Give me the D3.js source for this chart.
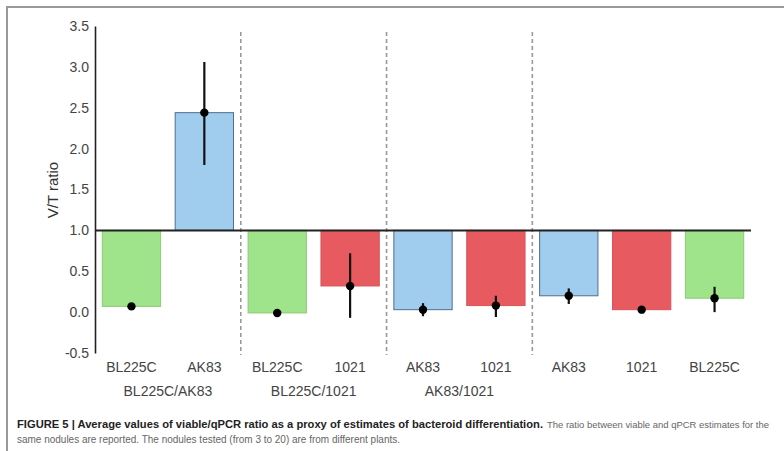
<!DOCTYPE html>
<html><head><meta charset="utf-8">
<script src="https://cdn.jsdelivr.net/npm/d3@7"></script>
<style>
html,body{margin:0;padding:0;background:#fff;}
svg{display:block;}
</style></head>
<body>
<svg id="chart" width="784" height="451"></svg>
<script>
const barLabels = ["BL225C","AK83","BL225C","1021","AK83","1021","AK83","1021","BL225C"];
const strains   = ["BL225C","AK83","BL225C","1021","AK83","1021","AK83","1021","BL225C"];
const values    = [0.07, 2.44, -0.01, 0.32, 0.03, 0.08, 0.20, 0.03, 0.17];
const errLow    = [0.07, 1.80, -0.01, -0.07, -0.05, -0.06, 0.10, 0.03, 0.00];
const errHigh   = [0.07, 3.06, -0.01, 0.72, 0.11, 0.20, 0.29, 0.03, 0.31];
const groupNames = ["BL225C/AK83","BL225C/1021","AK83/1021"];
const groupMembers = [[0,1],[2,3],[4,5]];
const separators = [2,4,6];
const yTicks = [-0.5,0.0,0.5,1.0,1.5,2.0,2.5,3.0,3.5];
const yTickLabels = ["-0.5","0.0","0.5","1.0","1.5","2.0","2.5","3.0","3.5"];
const baselineValue = 1.0;
const fillColors = {"BL225C":"#9fe48b","AK83":"#a0ccee","1021":"#e65a60"};
const strokeColors = {"BL225C":"#8acb78","AK83":"#4f6f8e","1021":"#d8535a"};
const captionBold = "FIGURE 5 | Average values of viable/qPCR ratio as a proxy of estimates of bacteroid differentiation.";
const captionRest1 = "The ratio between viable and qPCR estimates for the";
const captionLine2 = "same nodules are reported. The nodules tested (from 3 to 20) are from different plants.";

const svg = d3.select("#chart");
const left = 95, right = 751;
const x = d3.scaleBand().domain(d3.range(values.length)).range([left, right]).paddingInner(0.2).paddingOuter(0.1);
const y = d3.scaleLinear().domain([-0.5, 3.5]).range([353, 26]);

// frame
svg.append("path").attr("d","M7,451 V7 H784").attr("fill","none").attr("stroke","#9a9a9a").attr("stroke-width",2);

// dashed separators
separators.forEach(s => {
  const xs = left + (x.paddingOuter() * x.step()) + s * x.step() - x.step()*x.paddingInner()/2;
  svg.append("line").attr("x1",xs).attr("x2",xs).attr("y1",32).attr("y2",355)
    .attr("stroke","#999").attr("stroke-width",1.6).attr("stroke-dasharray","4,3");
});

// bars
svg.selectAll("rect.bar").data(values).enter().append("rect")
  .attr("class","bar")
  .attr("x",(d,i)=>x(i)).attr("width",x.bandwidth())
  .attr("y",d=>Math.min(y(d),y(baselineValue)))
  .attr("height",d=>Math.abs(y(d)-y(baselineValue)))
  .attr("fill",(d,i)=>fillColors[strains[i]])
  .attr("stroke",(d,i)=>strokeColors[strains[i]]).attr("stroke-width",1);

// baseline at 1.0
svg.append("line").attr("x1",left).attr("x2",right).attr("y1",y(baselineValue)).attr("y2",y(baselineValue))
  .attr("stroke","#222").attr("stroke-width",2);

// error bars
svg.selectAll("line.err").data(values).enter().append("line")
  .attr("class","err")
  .attr("x1",(d,i)=>x(i)+x.bandwidth()/2).attr("x2",(d,i)=>x(i)+x.bandwidth()/2)
  .attr("y1",(d,i)=>y(errLow[i])).attr("y2",(d,i)=>y(errHigh[i]))
  .attr("stroke","#111").attr("stroke-width",2.2);
svg.selectAll("circle.pt").data(values).enter().append("circle")
  .attr("class","pt")
  .attr("cx",(d,i)=>x(i)+x.bandwidth()/2).attr("cy",d=>y(d)).attr("r",4.2).attr("fill","#000");

// y axis
const yAxis = d3.axisLeft(y).tickValues(yTicks).tickFormat((d,i)=>yTickLabels[i]).tickSize(0).tickPadding(6);
const ga = svg.append("g").attr("transform",`translate(${left},0)`).call(yAxis);
ga.select(".domain").attr("stroke","#222").attr("stroke-width",1.6);
ga.selectAll("text").attr("font-family","Liberation Sans, Arial, sans-serif").attr("font-size",14).attr("fill","#444");

svg.append("text").attr("transform","translate(58,190) rotate(-90)").attr("text-anchor","middle")
  .attr("font-family","Liberation Sans, Arial, sans-serif").attr("font-size",15).attr("fill","#333").text("V/T ratio");

// x labels
svg.selectAll("text.xl").data(barLabels).enter().append("text")
  .attr("class","xl").attr("x",(d,i)=>x(i)+x.bandwidth()/2).attr("y",372)
  .attr("text-anchor","middle").attr("font-family","Liberation Sans, Arial, sans-serif")
  .attr("font-size",14).attr("fill","#444").text(d=>d);
svg.selectAll("text.gl").data(groupNames).enter().append("text")
  .attr("class","gl")
  .attr("x",(d,i)=>d3.mean(groupMembers[i],j=>x(j)+x.bandwidth()/2)).attr("y",396)
  .attr("text-anchor","middle").attr("font-family","Liberation Sans, Arial, sans-serif")
  .attr("font-size",14).attr("fill","#444").text(d=>d);

// caption
const capFont = "'Liberation Sans Narrow', 'Liberation Sans', Arial, sans-serif";
svg.append("text").attr("x",17).attr("y",428).attr("font-family",capFont).attr("font-size",10.5)
  .attr("font-weight","bold").attr("fill","#222").attr("textLength",526).attr("lengthAdjust","spacingAndGlyphs").text(captionBold);
svg.append("text").attr("x",547).attr("y",428).attr("font-family",capFont).attr("font-size",9)
  .attr("fill","#666").attr("textLength",222).attr("lengthAdjust","spacingAndGlyphs").text(captionRest1);
svg.append("text").attr("x",17).attr("y",443).attr("font-family",capFont).attr("font-size",10)
  .attr("fill","#666").attr("textLength",383).attr("lengthAdjust","spacingAndGlyphs").text(captionLine2);
</script>
</body></html>
